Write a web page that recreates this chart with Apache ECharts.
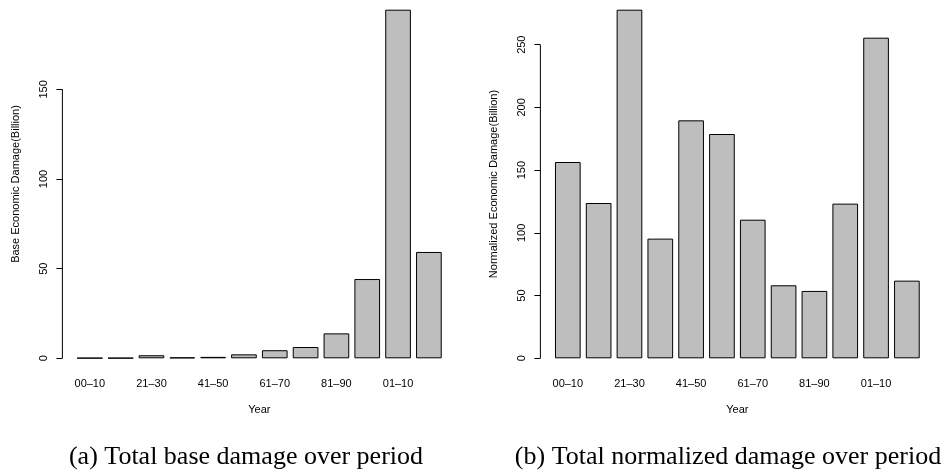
<!DOCTYPE html>
<html>
<head>
<meta charset="utf-8">
<script src="https://cdn.jsdelivr.net/npm/echarts@6/dist/echarts.min.js"></script>
<style>
  html, body { margin: 0; padding: 0; background: #fff; }
  #main { width: 946px; height: 473px; }
</style>
</head>
<body>
<div id="main"></div>
<script>
// periods (only every other one gets a label, like the R barplot)
var periods = ['00–10', '11–20', '21–30', '31–40', '41–50', '51–60',
               '61–70', '71–80', '81–90', '91–00', '01–10', '11–13'];
// base economic damage, billion
var baseDamage = [0.2, 0.2, 1.7, 0.5, 0.8, 2.2, 4.5, 6.3, 13.9, 44.2, 194.4, 59.3];
// normalized economic damage, billion
var normDamage = [156.5, 123.8, 277.9, 95.4, 189.7, 178.8, 110.5, 58.2, 53.7, 123.3, 255.6, 61.9];
// ticks on each y axis (R stops the axis line at the last one)
var baseTicks = [0, 50, 100, 150];
var normTicks = [0, 50, 100, 150, 200, 250];

var myChart = echarts.init(document.getElementById('main'));
var txt = '#000';
var font = 'Liberation Sans, Arial, sans-serif';

function yAxisCfg(idx, name, maxVal) {
  return {
    gridIndex: idx,
    type: 'value',
    min: 0,
    max: maxVal,
    interval: 50,
    offset: 12,
    name: name,
    nameLocation: 'middle',
    nameGap: 41,
    nameTextStyle: { color: txt, fontFamily: font, fontSize: 11 },
    axisLine: { show: false },
    axisTick: { show: true, length: 6, lineStyle: { color: '#000' } },
    splitLine: { show: false },
    axisLabel: {
      rotate: 90, margin: 13, color: txt, fontFamily: font, fontSize: 11,
      showMaxLabel: false
    }
  };
}

function xAxisCfg(idx) {
  return {
    gridIndex: idx,
    type: 'category',
    data: periods,
    name: 'Year',
    nameLocation: 'middle',
    nameGap: 46,
    nameTextStyle: { color: txt, fontFamily: font, fontSize: 11 },
    axisLine: { show: false },
    axisTick: { show: false },
    axisLabel: { interval: 1, margin: 20, color: txt, fontFamily: font, fontSize: 11 }
  };
}

function barSeries(idx, data) {
  return {
    type: 'bar',
    xAxisIndex: idx,
    yAxisIndex: idx,
    barCategoryGap: '16.7%',
    data: data,
    itemStyle: { color: '#bebebe', borderColor: '#000', borderWidth: 1 },
    silent: true
  };
}

var capStyle = { fontFamily: 'Liberation Serif, serif', fontWeight: 'normal', fontSize: 26, color: '#000' };

var option = {
  animation: false,
  backgroundColor: '#fff',
  title: [
    { text: '(a) Total base damage over period', left: 241, top: 439, textAlign: 'center', textStyle: capStyle },
    { text: '(b) Total normalized damage over period', left: 723, top: 439, textAlign: 'center', textStyle: capStyle }
  ],
  grid: [
    { left: 74.4, width: 369.9, top: 9.7, height: 348.6 },
    { left: 552.4, width: 369.9, top: 9.7, height: 348.6 }
  ],
  xAxis: [xAxisCfg(0), xAxisCfg(1)],
  yAxis: [
    yAxisCfg(0, 'Base Economic Damage(Billion)', 194.4),
    yAxisCfg(1, 'Normalized Economic Damage(Billion)', 277.9)
  ],
  series: [barSeries(0, baseDamage), barSeries(1, normDamage)]
};
myChart.setOption(option, true);

// y axis line only between first and last tick, as R draws it
function axisLine(idx, ticks, gridLeft) {
  var y0 = myChart.convertToPixel({ yAxisIndex: idx }, ticks[0]);
  var y1 = myChart.convertToPixel({ yAxisIndex: idx }, ticks[ticks.length - 1]);
  var x = gridLeft - 12;
  return { type: 'line', shape: { x1: x, y1: y0, x2: x, y2: y1 }, style: { stroke: '#000', lineWidth: 1 } };
}
myChart.setOption({
  graphic: [axisLine(0, baseTicks, 74.4), axisLine(1, normTicks, 552.4)]
});
</script>
</body>
</html>
